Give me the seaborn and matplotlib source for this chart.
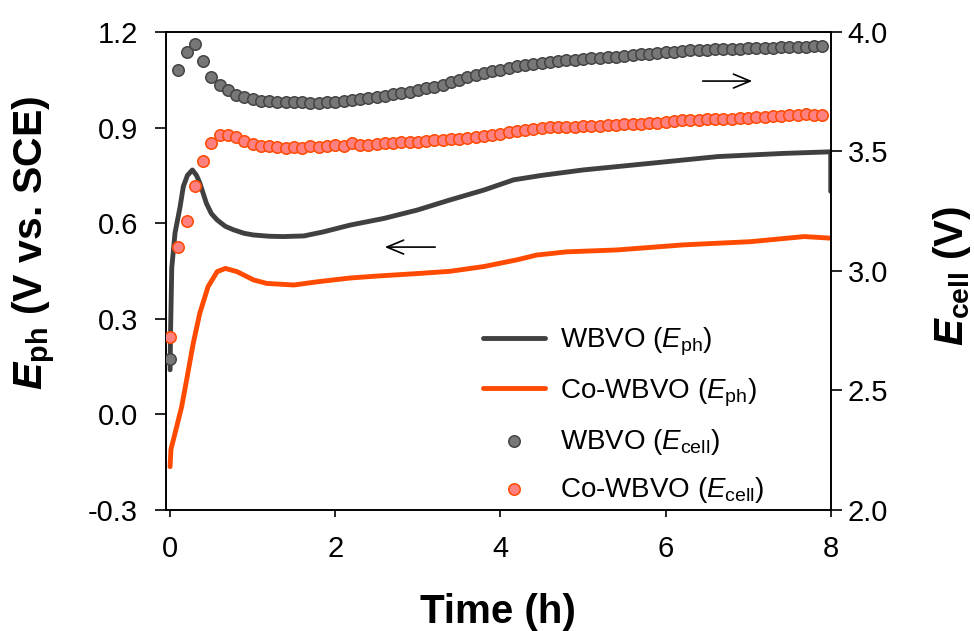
import numpy as np
import pandas as pd
import matplotlib
matplotlib.use("Agg")
import matplotlib.pyplot as plt
import seaborn as sns

# ---------------- data ----------------
wbvo_eph_t = [0.0, 0.005, 0.02, 0.06, 0.12, 0.16, 0.21, 0.27, 0.32, 0.36, 0.44, 0.5, 0.57,
              0.67, 0.77, 0.9, 1.01, 1.2, 1.37, 1.62, 1.86, 2.18, 2.59, 2.99, 3.39, 3.8,
              4.16, 4.5, 5.0, 5.82, 6.63, 7.43, 8.0, 8.0]
wbvo_eph_v = [0.14, 0.25, 0.46, 0.57, 0.65, 0.715, 0.75, 0.767, 0.75, 0.726, 0.662, 0.63, 0.61,
              0.59, 0.579, 0.568, 0.563, 0.559, 0.558, 0.56, 0.573, 0.594, 0.615, 0.641, 0.673, 0.704,
              0.736, 0.75, 0.767, 0.788, 0.809, 0.819, 0.824, 0.70]

co_eph_t = [0.0, 0.01, 0.06, 0.14, 0.2, 0.28, 0.36, 0.46, 0.57, 0.67, 0.81, 1.01, 1.17, 1.5,
            1.78, 2.18, 2.5, 3.0, 3.39, 3.8, 4.2, 4.44, 4.8, 5.41, 6.22, 7.03, 7.68, 8.0]
co_eph_v = [-0.164, -0.11, -0.059, 0.024, 0.108, 0.223, 0.318, 0.401, 0.448, 0.458, 0.448, 0.422,
            0.411, 0.406, 0.416, 0.428, 0.434, 0.442, 0.449, 0.464, 0.485, 0.50, 0.51, 0.516,
            0.532, 0.542, 0.558, 0.553]

cell_t = [round(0.1 * i, 1) for i in range(80)]
wbvo_cell = [2.63, 3.84, 3.915, 3.95, 3.88, 3.813, 3.778, 3.757, 3.736, 3.727,
             3.718, 3.713, 3.710, 3.708, 3.706, 3.706, 3.705, 3.704, 3.704, 3.705,
             3.707, 3.710, 3.714, 3.718, 3.722, 3.727, 3.732, 3.739, 3.746, 3.751,
             3.757, 3.764, 3.771, 3.780, 3.790, 3.800, 3.810, 3.818, 3.828, 3.836,
             3.843, 3.850, 3.856, 3.861, 3.866, 3.870, 3.874, 3.878, 3.881, 3.884,
             3.887, 3.890, 3.892, 3.895, 3.897, 3.900, 3.903, 3.906, 3.909, 3.912,
             3.915, 3.918, 3.921, 3.923, 3.925, 3.926, 3.927, 3.928, 3.929, 3.930,
             3.931, 3.933, 3.934, 3.935, 3.936, 3.937, 3.938, 3.939, 3.940, 3.941]
co_cell = [2.725, 3.10, 3.21, 3.357, 3.462, 3.534, 3.569, 3.569, 3.559, 3.545,
           3.53, 3.524, 3.524, 3.52, 3.513, 3.52, 3.516, 3.522, 3.52, 3.522,
           3.526, 3.522, 3.534, 3.527, 3.529, 3.531, 3.534, 3.536, 3.538, 3.54,
           3.54, 3.544, 3.548, 3.549, 3.551, 3.554, 3.558, 3.561, 3.565, 3.570,
           3.575, 3.580, 3.584, 3.590, 3.595, 3.599, 3.601, 3.602, 3.603, 3.604,
           3.605, 3.606, 3.607, 3.609, 3.611, 3.613, 3.615, 3.616, 3.618, 3.621,
           3.624, 3.627, 3.630, 3.632, 3.633, 3.634, 3.635, 3.636, 3.638, 3.640,
           3.641, 3.643, 3.645, 3.647, 3.649, 3.651, 3.654, 3.656, 3.654, 3.652]

x_ticks = [0, 2, 4, 6, 8]
left_ticks = [-0.3, 0.0, 0.3, 0.6, 0.9, 1.2]
right_ticks = [2.0, 2.5, 3.0, 3.5, 4.0]

labels = [r"WBVO ($\mathit{E}_{\mathrm{ph}}$)", r"Co-WBVO ($\mathit{E}_{\mathrm{ph}}$)",
          r"WBVO ($\mathit{E}_{\mathrm{cell}}$)", r"Co-WBVO ($\mathit{E}_{\mathrm{cell}}$)"]

# ---------------- style ----------------
sns.set_style("ticks")
plt.rcParams['font.family'] = ['Liberation Sans', 'DejaVu Sans']
plt.rcParams['mathtext.fontset'] = 'custom'
plt.rcParams['mathtext.rm'] = 'Liberation Sans'
plt.rcParams['mathtext.it'] = 'Liberation Sans:italic'
plt.rcParams['mathtext.bf'] = 'Liberation Sans:bold'
plt.rcParams['mathtext.bfit'] = 'Liberation Sans:italic:bold'
plt.rcParams['axes.unicode_minus'] = False
plt.rcParams['text.color'] = 'black'
plt.rcParams['axes.labelcolor'] = 'black'
plt.rcParams['xtick.color'] = 'black'
plt.rcParams['ytick.color'] = 'black'

GRAY_LINE = "#404040"
ORANGE_LINE = "#FF4A00"

fig = plt.figure(figsize=(9.74, 6.31), dpi=100)
ax = fig.add_axes([0.1704, 0.1918, 0.6825, 0.7575])
ax2 = ax.twinx()

df1 = pd.DataFrame({"t": wbvo_eph_t, "v": wbvo_eph_v})
df2 = pd.DataFrame({"t": co_eph_t, "v": co_eph_v})
dfc = pd.DataFrame({"t": cell_t, "w": wbvo_cell, "c": co_cell})

sns.lineplot(data=df1, x="t", y="v", ax=ax, estimator=None, sort=False,
             color=GRAY_LINE, lw=3.5, label=labels[0], legend=False)
sns.lineplot(data=df2, x="t", y="v", ax=ax, estimator=None, sort=False,
             color=ORANGE_LINE, lw=3.5, label=labels[1], legend=False)
sns.scatterplot(data=dfc, x="t", y="w", ax=ax2, s=68, color="#777777",
                edgecolor="#444444", linewidth=1.1, label=labels[2], legend=False, zorder=3)
sns.scatterplot(data=dfc, x="t", y="c", ax=ax2, s=68, color="#FF8080",
                edgecolor="#FF4A00", linewidth=1.1, label=labels[3], legend=False, zorder=3)

ax.set_xlim(-0.05, 8.0)
ax.set_ylim(-0.3, 1.2)
ax2.set_ylim(2.0, 4.0)
ax.set_xticks(x_ticks)
ax.set_xticklabels([str(v) for v in x_ticks])
ax.set_yticks(left_ticks)
ax.set_yticklabels([f"{v:.1f}" for v in left_ticks])
ax2.set_yticks(right_ticks)
ax2.set_yticklabels([f"{v:.1f}" for v in right_ticks])

for a in (ax, ax2):
    for s in a.spines.values():
        s.set_linewidth(1.2)
        s.set_color("black")
        s.set_visible(True)

ax.tick_params(axis='y', direction='out', length=8, width=1.2, labelsize=21, pad=12, colors='black')
ax.tick_params(axis='x', direction='out', length=5, width=1.2, labelsize=21, pad=13, colors='black')
ax2.tick_params(axis='y', direction='out', length=8, width=1.2, labelsize=21, pad=4, colors='black')

ax.set_xlabel("")
ax.set_ylabel("")
ax2.set_ylabel("")
ax2.set_xlabel("")

fig.text(498 / 974, 1 - 612 / 631, "Time (h)", ha="center", va="center",
         fontsize=29, fontweight="bold", color="black")
fig.text(35 / 974, 1 - 243 / 631, r"$\mathbfit{E}_{\mathbf{ph}}$ (V vs. SCE)", ha="center",
         va="center", rotation=90, fontsize=29.5, fontweight="bold", color="black")
fig.text(952 / 974, 1 - 276 / 631, r"$\mathbfit{E}_{\mathbf{cell}}$ (V)", ha="center",
         va="center", rotation=90, fontsize=29, fontweight="bold", color="black")

# arrows
ax.annotate("", xy=(2.60, 0.525), xytext=(3.21, 0.525),
            arrowprops=dict(arrowstyle="->,head_length=0.6,head_width=0.25", lw=1.2,
                            color="black", mutation_scale=20, shrinkA=0, shrinkB=0))
ax.annotate("", xy=(7.05, 1.046), xytext=(6.45, 1.046),
            arrowprops=dict(arrowstyle="->,head_length=0.6,head_width=0.25", lw=1.2,
                            color="black", mutation_scale=20, shrinkA=0, shrinkB=0))

h1, l1 = ax.get_legend_handles_labels()
h2, l2 = ax2.get_legend_handles_labels()
leg = ax2.legend(h1 + h2, l1 + l2, loc="upper left",
                 bbox_to_anchor=(483 / 974, 1 - 326 / 631), bbox_transform=fig.transFigure,
                 frameon=False, fontsize=20, handlelength=2.23, handletextpad=0.55,
                 labelspacing=0.65, borderpad=0, borderaxespad=0)

fig.savefig("out.png", dpi=100)
